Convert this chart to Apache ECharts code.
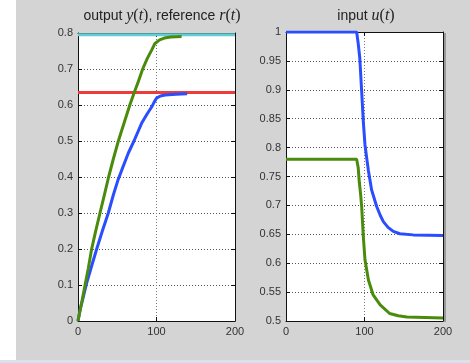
<!DOCTYPE html>
<html><head><meta charset="utf-8">
<script src="https://cdn.jsdelivr.net/npm/echarts@6/dist/echarts.min.js"></script>
<style>html,body{margin:0;padding:0;background:#fff}#c{width:470px;height:363px}</style>
</head><body><div id="c"></div>
<script>
// Left panel: output y(t) and reference r(t)
const outGreenT = [0,5,9,13,17.4,22,28,33,39,45,51.4,58,66,72,76,82.4,88,94,98,104,110,118,132];
const outGreenV = [0,0.055,0.1,0.145,0.2,0.245,0.3,0.345,0.4,0.45,0.5,0.545,0.6,0.637,0.66,0.7,0.728,0.753,0.771,0.781,0.786,0.789,0.79];
const outBlueT = [0,2.5,6,11,17,23.8,31,38.6,45,51,55.7,64,71.3,81,88,94,97,100,105,111,125,139];
const outBlueV = [0,0.03,0.06,0.105,0.15,0.2,0.25,0.3,0.35,0.392,0.419,0.466,0.5,0.549,0.575,0.595,0.608,0.619,0.625,0.628,0.63,0.631];
const refCyan = 0.795;
const refRed = 0.635;
// Right panel: input u(t)
const inBlueT = [0,90,92,94,96.4,98.5,100.6,103,105,109,115.5,120,124,130,136.7,145,162,200];
const inBlueV = [1,1,0.98,0.955,0.897,0.845,0.805,0.78,0.76,0.727,0.698,0.683,0.672,0.662,0.655,0.651,0.649,0.648];
const inGreenT = [0,90,92,93.4,95,96.4,98.5,100.6,105,111,120,132,143,154,200];
const inGreenV = [0.78,0.78,0.765,0.74,0.72,0.698,0.646,0.606,0.571,0.545,0.528,0.513,0.509,0.507,0.505];
const xTicks = [0,100,200];
const leftYTicks = [0,0.1,0.2,0.3,0.4,0.5,0.6,0.7,0.8];
const rightYTicks = [0.5,0.55,0.6,0.65,0.7,0.75,0.8,0.85,0.9,0.95,1];

const zip = (t, v) => t.map((x, i) => [x, v[i]]);
const C_BLUE = '#2a4dff', C_GREEN = '#4b8b0c', C_CYAN = '#62cdd3', C_RED = '#ec3d3a';
const FONT = 'Liberation Sans, Arial, sans-serif';

function xAx(gi, pos, labels) {
  return {
    type: 'value', gridIndex: gi, position: pos, min: 0, max: 200, interval: 100,
    axisLine: {show: true, onZero: false, lineStyle: {color: '#111', width: 1}},
    axisTick: {show: true, inside: true, length: 4, lineStyle: {color: '#111'}},
    axisLabel: {show: labels, color: '#333', fontSize: 11, fontFamily: FONT, margin: 5},
    splitLine: {show: labels, lineStyle: {type: [1, 2], color: '#777', width: 1}}
  };
}
function yAx(gi, pos, labels, min, max, iv, fmt) {
  return {
    type: 'value', gridIndex: gi, position: pos, min: min, max: max, interval: iv,
    axisLine: {show: true, onZero: false, lineStyle: {color: '#111', width: 1}},
    axisTick: {show: true, inside: true, length: 4, lineStyle: {color: '#111'}},
    axisLabel: {show: labels, color: '#333', fontSize: 11, fontFamily: FONT, margin: 5, formatter: fmt},
    splitLine: {show: labels, lineStyle: {type: [1, 2], color: '#555', width: 1}}
  };
}
const fmtL = v => (Math.abs(v) < 1e-9 ? '0' : String(+v.toFixed(2)));
const line = (data, color, xi, yi) => ({
  type: 'line', data: data, xAxisIndex: xi, yAxisIndex: yi, symbol: 'none',
  lineStyle: {color: color, width: 3}, itemStyle: {color: color}, silent: true, animation: false
});

const rich = {
  n: {fontFamily: FONT, fontSize: 14, fontWeight: 'normal', color: '#222'},
  m: {fontFamily: 'Liberation Serif, DejaVu Serif, serif', fontStyle: 'italic', fontWeight: 'normal', fontSize: 16, color: '#222'},
  p: {fontFamily: 'Liberation Serif, DejaVu Serif, serif', fontWeight: 'normal', fontSize: 16, color: '#222'}
};

const chart = echarts.init(document.getElementById('c'), null, {renderer: 'canvas'});
chart.setOption({
  animation: false,
  backgroundColor: 'transparent',
  graphic: [
    {type: 'rect', z: -10, shape: {x: 16, y: 0, width: 454, height: 360}, style: {fill: '#d4d4d4'}},
    {type: 'rect', z: -10, shape: {x: 0, y: 360, width: 470, height: 3}, style: {fill: '#d9e0ee'}},
    {type: 'rect', z: -10, shape: {x: 444, y: 33, width: 2, height: 289}, style: {fill: '#9a9a9a'}}
  ],
  title: [
    {text: '{n|output }{m|y}{p|(}{m|t}{p|)}{n|, reference }{m|r}{p|(}{m|t}{p|)}', left: 157, top: 3, textAlign: 'center',
     textStyle: {fontWeight: 'normal', rich: rich}},
    {text: '{n|input }{m|u}{p|(}{m|t}{p|)}', left: 361, top: 3, textAlign: 'center', textStyle: {fontWeight: 'normal', rich: rich}}
  ],
  grid: [
    {left: 78, top: 33, width: 157, height: 288, show: true, backgroundColor: '#fff', borderWidth: 0},
    {left: 286, top: 32, width: 157, height: 289, show: true, backgroundColor: '#fff', borderWidth: 0}
  ],
  xAxis: [xAx(0, 'bottom', true), xAx(0, 'top', false), xAx(1, 'bottom', true), xAx(1, 'top', false)],
  yAxis: [
    yAx(0, 'left', true, 0, 0.8, 0.1, fmtL), yAx(0, 'right', false, 0, 0.8, 0.1, fmtL),
    yAx(1, 'left', true, 0.5, 1, 0.05, fmtL), yAx(1, 'right', false, 0.5, 1, 0.05, fmtL)
  ],
  series: [
    line([[0, refCyan], [200, refCyan]], C_CYAN, 0, 0),
    line([[0, refRed], [200, refRed]], C_RED, 0, 0),
    line(zip(outBlueT, outBlueV), C_BLUE, 0, 0),
    line(zip(outGreenT, outGreenV), C_GREEN, 0, 0),
    line(zip(inBlueT, inBlueV), C_BLUE, 2, 2),
    line(zip(inGreenT, inGreenV), C_GREEN, 2, 2)
  ]
});
</script></body></html>
